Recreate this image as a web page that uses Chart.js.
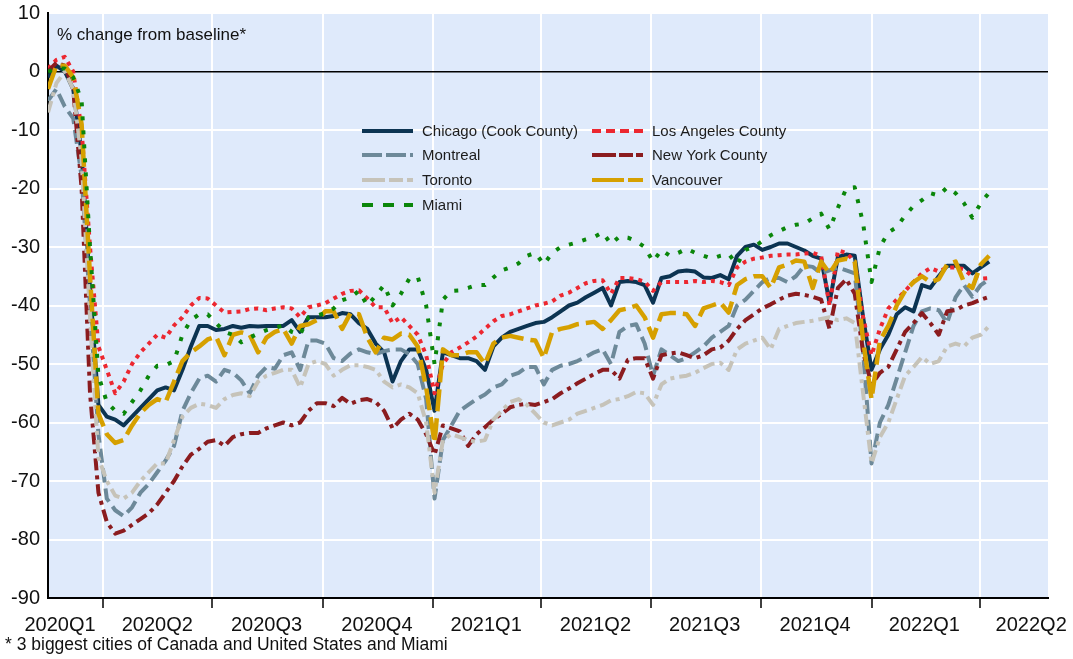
<!DOCTYPE html>
<html>
<head>
<meta charset="utf-8">
<title>Mobility: % change from baseline</title>
<script src="https://cdn.jsdelivr.net/npm/chart.js@4.4.1/dist/chart.umd.min.js"></script>
<style>
  html, body { margin: 0; padding: 0; background: #fff; }
  #wrap { width: 1073px; height: 659px; }
</style>
</head>
<body>
<div id="wrap"><canvas id="mobilityChart" width="1073" height="659"></canvas></div>
<script>
// weekly readings, first point is 2020-02-15, then one every 7 days
const START = Date.UTC(2020, 1, 15);
const DAY_MS = 86400000;
const X_MAX = 833; // days shown on the axis (to late May 2022)

const chicago = [
  -1, 1, 0, -3, -14, -37, -57, -59, -59.5, -60.5,
  -59, -57.5, -56, -54.5, -54, -54.5, -51, -47, -43.5, -43.5,
  -44.2, -44, -43.5, -43.8, -43.5, -43.6, -43.5, -43.5, -43.5, -42.5,
  -44.5, -42, -42, -42, -41.8, -41.3, -41.5, -43, -44, -46.5,
  -48, -53, -49.5, -47.5, -47.5, -51, -58, -48, -48.5, -49,
  -49, -49.5, -51, -47, -45.5, -44.5, -44, -43.5, -43, -42.8,
  -42, -41, -40, -39.5, -38.6, -37.8, -37, -40, -36, -35.8,
  -36, -36.5, -39.5, -35.3, -35, -34.2, -34, -34.2, -35.2, -35.3,
  -34.8, -35.5, -31.5, -30, -29.6, -30.5, -30, -29.4, -29.4, -30,
  -30.6, -31.5, -32, -39.5, -31.7, -31.3, -31.5, -42, -51, -47.5,
  -45, -41.5, -40.3, -41, -36.5, -37, -35, -33.2, -33.2, -33.2,
  -34.5, -33.5, -32.5
];
const losAngeles = [
  0.5, 2, 2.5, 0, -10, -30, -47, -51, -55, -53,
  -50, -48, -46.5, -45, -45.5, -43.4, -42, -40, -38.7, -38.8,
  -40, -41.2, -41.1, -41, -40.6, -40.5, -40.8, -40.5, -40.3, -40.5,
  -42, -40.3, -40, -39.6, -38.8, -38, -37.5, -37.4, -38.8, -40.3,
  -40.3, -43, -42, -43.5, -45, -48.5, -55, -50, -48, -47.2,
  -46.3, -45.3, -44, -42.7, -41.8, -41.5, -41, -40.5, -40, -39.7,
  -39.3, -38.3, -37.8, -37, -36.2, -35.8, -35.7, -38, -35.3, -35.3,
  -35.5, -35.9, -37.5, -36, -36, -36, -36, -35.8, -36, -35.8,
  -36, -36.5, -33.5, -32.5, -32, -31.8, -31.5, -31.4, -31.3, -31.3,
  -31.1, -31, -31.5, -40, -30.6, -31, -32.5, -42, -48.5, -44,
  -40.5, -39, -37.5, -36, -34.5, -33.6, -34.2, -33.5, -33.5, -33.8,
  -35, -35.4, -35.3
];
const montreal = [
  -5, -3, -6, -8, -18, -40, -62, -73, -75, -76,
  -74.5, -72, -70.5, -68.5, -66.5, -64, -58, -55, -52.5, -52,
  -53, -51, -51.5, -52.8, -55, -52, -50.5, -50.8, -48.5, -48,
  -51, -46, -46, -46.5, -49, -49.5, -48.2, -47.5, -48, -48.3,
  -47.8, -47.5, -47.5, -48.3, -50, -56, -73, -63, -60.5, -58,
  -57, -56, -55.2, -54, -53.5, -52, -51.5, -50.5, -50.5, -53.5,
  -51, -50.3, -50, -49.5, -48.8, -48, -47.5, -50, -44.5, -43.5,
  -43.2, -46.5, -52, -47.5, -48.5, -49.5, -49, -48, -47, -45.5,
  -44.5, -43.5, -40, -39, -37.5, -36, -35.3, -35.3, -36, -35,
  -33.2, -33.4, -34.5, -34, -33.5, -34, -34.5, -48, -67, -60,
  -57, -52.5, -48, -43.5, -41, -40.5, -40.8, -43, -38.6, -36.5,
  -38.5, -36.5, -35.5
];
const newYork = [
  0, 1.5, 1, -3, -20, -55, -72, -77, -79, -78.5,
  -77.5, -76.5, -75.5, -74, -72, -70, -67.5, -65.5, -64.5, -63.3,
  -63, -64, -62.5, -62, -61.8, -61.8, -61, -60.5, -60, -60.5,
  -60, -58, -56.7, -56.7, -57.2, -55.8, -56.8, -56.2, -56, -56.5,
  -58, -61, -59.5, -58.5, -59.5, -62, -65.5, -60.5, -61, -61.5,
  -64, -62, -60.8, -59.5, -58.5, -57.4, -57, -56.8, -57, -56.5,
  -56, -55, -54.2, -53.3, -52.5, -51.7, -51, -51, -52.5, -49.3,
  -49, -49, -52.5, -48.5, -48.2, -48, -48.5, -49, -48.5, -47.5,
  -47.2, -46, -44, -42.5, -41.5, -40.5, -39.8, -39, -38.3, -38,
  -38.2, -38.5, -39, -44, -37, -35.5, -38, -48, -53.5, -51.5,
  -50.5, -47.5, -44.5, -43, -41.3, -43, -45, -41, -40.8, -40,
  -39.6, -39, -38.5
];
const toronto = [
  -7, -2, 0, -3, -15, -42, -66, -70, -72.5, -73,
  -72, -70, -68.5, -67, -67, -63, -59, -57.5, -56.8, -57,
  -57.5, -56, -55.3, -55, -55.5, -53, -52, -51.5, -51, -51,
  -54, -50, -49.5, -50, -52, -51, -50.2, -50.2, -50.5, -51,
  -53, -54, -53.5, -54, -55, -60, -72, -63, -62, -62.5,
  -63, -63.3, -63, -59.5, -58, -56.5, -56, -57, -58.5, -60,
  -60.5, -60, -59.5, -58.5, -58, -57.5, -57, -56.2, -56, -55.5,
  -54.8, -55, -57, -53.5, -52.5, -52.2, -52, -51.5, -50.7, -50,
  -49.8, -51, -47.5, -46.5, -46, -45.5, -47.5, -44, -43.5, -43,
  -42.8, -42.6, -42.3, -42, -42.5, -42.2, -43, -55, -67, -62.5,
  -60, -56, -52, -50.5, -48.8, -50, -49.5, -47, -46.5, -47,
  -45.5, -45, -43.5
];
const vancouver = [
  -3, 1, 1, -1, -9, -35, -58.5, -62, -63.5, -63,
  -60.5, -58.4, -57, -56, -56.5, -53, -49.5, -48, -47, -45.8,
  -45.3, -48.5, -45, -44.6, -45, -48, -45.5, -44.5, -44, -46.5,
  -43.5, -43.2, -42.5, -41, -41, -44, -41.3, -41.5, -45.5, -48,
  -45.5, -45.8, -44.8, -45, -47, -54, -63.5, -47.5, -48.5, -48.5,
  -48, -48, -50, -46.5, -45.5, -45.2, -45.5, -45.8, -46, -49,
  -44.5, -44, -43.7, -43.2, -43, -42.8, -44, -42.5, -40.8, -40.5,
  -40, -42, -45.5, -41.5, -41.3, -41.3, -41.5, -43.5, -40.5, -40,
  -39.5, -41.2, -36.5, -35.5, -35, -35, -37, -33.5, -33, -32.3,
  -32.5, -37, -32.5, -34.5, -32.3, -32, -32.5, -46, -56, -46,
  -43.5, -40, -37.5, -36, -35, -36, -35.5, -33, -32.5, -36,
  -37, -33, -31.5
];
const miami = [
  0, 0.5, 0.5, -1, -5, -30, -52, -56.5, -58, -58.5,
  -56.5, -54.5, -52, -50.3, -50.2, -49.5, -45, -42.5, -41.5, -41.5,
  -43, -44.5, -45, -46.3, -45.5, -44.8, -44.2, -43.8, -43.4, -44.5,
  -45, -42, -41.7, -41.3, -40.5, -39.1, -38.6, -37.5, -40, -38.3,
  -36.5, -40, -38, -35.4, -35.1, -40, -50, -39, -37.5, -37.4,
  -37, -36.5, -36.5, -35.2, -34, -33.5, -32.8, -31.5, -31, -33,
  -31, -30, -29.6, -29.2, -28.7, -28.3, -27.5, -29.5, -28.2, -28.4,
  -29, -30, -32.5, -30.5, -31.5, -31, -30.3, -31, -31.5, -32,
  -31.5, -31.2, -33, -30.5, -30, -29, -28, -27.3, -26.6, -26.2,
  -26, -25.1, -24.3, -27, -23.3, -20, -19.8, -26, -36, -30,
  -27.5, -26.6, -24.6, -23, -22, -20.8, -21.2, -19.8, -20.8, -22.5,
  -25, -22.5, -20.7
];

// x axis: quarter boundaries get grid lines, labels sit in the middle of each quarter
const quarterStarts = ["2020-04-01", "2020-07-01", "2020-10-01", "2021-01-01", "2021-04-01",
                       "2021-07-01", "2021-10-01", "2022-01-01", "2022-04-01"];
const quarterLabels = ["2020Q1", "2020Q2", "2020Q3", "2020Q4", "2021Q1",
                       "2021Q2", "2021Q3", "2021Q4", "2022Q1", "2022Q2"];
const quarterLabelDates = ["2020-02-25", "2020-05-16", "2020-08-15", "2020-11-15", "2021-02-14",
                           "2021-05-16", "2021-08-15", "2021-11-15", "2022-02-14", "2022-05-14"];
const yTickMin = -90, yTickMax = 10, yTickStep = 10;

function dayOf(s) {
  return Math.round((Date.parse(s + "T00:00:00Z") - START) / DAY_MS);
}
function toPoints(values) {
  return values.map((v, i) => ({ x: i * 7, y: v }));
}

const boundaryDays = quarterStarts.map(dayOf);
const labelByDay = {};
quarterLabelDates.forEach((d, i) => { labelByDay[dayOf(d)] = quarterLabels[i]; });
const xTickValues = boundaryDays.concat(Object.keys(labelByDay).map(Number)).sort((a, b) => a - b);
const isBoundary = v => boundaryDays.indexOf(v) !== -1;

const series = [
  { label: "Chicago (Cook County)", data: chicago,    color: "#0c3452", width: 4,   dash: [],            legendDash: [] },
  { label: "Los Angeles County",    data: losAngeles, color: "#ec2730", width: 4,   dash: [4, 5],        legendDash: [9, 5] },
  { label: "Montreal",              data: montreal,   color: "#6d8999", width: 4,   dash: [14, 6],       legendDash: [20, 4] },
  { label: "New York County",       data: newYork,    color: "#8b1c1f", width: 4,   dash: [12, 5, 4, 5], legendDash: [24, 3, 14, 3] },
  { label: "Toronto",               data: toronto,    color: "#c6c3b9", width: 4,   dash: [12, 5, 4, 5], legendDash: [23, 4, 14, 4] },
  { label: "Vancouver",             data: vancouver,  color: "#d6a000", width: 4.5, dash: [22, 7],       legendDash: [32, 4] },
  { label: "Miami",                 data: miami,      color: "#0a860a", width: 4,   dash: [4, 10],       legendDash: [11, 10] }
];

const FONT = '"Liberation Sans", Arial, sans-serif';
Chart.defaults.font.family = FONT;

// light blue plot area
const plotBackground = {
  id: "plotBackground",
  beforeDraw(chart) {
    const a = chart.chartArea, ctx = chart.ctx;
    ctx.save();
    ctx.fillStyle = "#dfeafb";
    ctx.fillRect(a.left, a.top, a.right - a.left, a.bottom - a.top);
    ctx.restore();
  }
};

// legend inside the plot, two columns, plus the unit note and footnote
const innerLegend = {
  id: "innerLegend",
  afterDraw(chart) {
    const ctx = chart.ctx;
    const cols = [362, 592];
    const rows = [131, 155, 180, 205];
    ctx.save();
    chart.data.datasets.forEach((ds, i) => {
      const x = cols[i % 2], y = rows[Math.floor(i / 2)];
      ctx.beginPath();
      ctx.strokeStyle = ds.borderColor;
      ctx.lineWidth = 4;
      ctx.lineCap = "butt";
      ctx.setLineDash(ds.legendDash);
      ctx.moveTo(x, y);
      ctx.lineTo(x + 51, y);
      ctx.stroke();
      ctx.setLineDash([]);
      ctx.fillStyle = "#1c1c1c";
      ctx.font = "15px " + FONT;
      ctx.textBaseline = "middle";
      ctx.textAlign = "left";
      ctx.fillText(ds.label, x + 60, y + 1);
    });
    ctx.fillStyle = "#111";
    ctx.textBaseline = "alphabetic";
    ctx.font = "17px " + FONT;
    ctx.fillText("% change from baseline*", chart.chartArea.left + 9, 40);
    ctx.font = "17.5px " + FONT;
    ctx.fillText("* 3 biggest cities of Canada and United States and Miami", 5, 650);
    ctx.restore();
  }
};

const chartCtx = document.getElementById("mobilityChart").getContext("2d");
new Chart(chartCtx, {
  type: "line",
  data: {
    datasets: series.map((s, i) => ({
      label: s.label,
      data: toPoints(s.data),
      borderColor: s.color,
      backgroundColor: s.color,
      borderWidth: s.width,
      borderDash: s.dash,
      borderCapStyle: "butt",
      borderJoinStyle: "round",
      legendDash: s.legendDash,
      pointRadius: 0,
      tension: 0,
      fill: false,
      order: series.length - i
    }))
  },
  options: {
    responsive: false,
    animation: false,
    layout: { padding: { left: 0, right: 25, top: 13, bottom: 21 } },
    plugins: {
      legend: { display: false },
      tooltip: { enabled: false }
    },
    scales: {
      x: {
        type: "linear",
        min: 0,
        max: X_MAX,
        afterBuildTicks: scale => { scale.ticks = xTickValues.map(v => ({ value: v })); },
        afterFit: scale => { scale.height = 40; },
        ticks: {
          autoSkip: false,
          maxRotation: 0,
          padding: 5,
          color: "#111",
          font: { size: 20 },
          callback: value => labelByDay[value] || ""
        },
        grid: {
          color: c => (c.tick && isBoundary(c.tick.value)) ? "#ffffff" : "rgba(0,0,0,0)",
          tickColor: c => (c.tick && isBoundary(c.tick.value)) ? "#000000" : "rgba(0,0,0,0)",
          lineWidth: 2,
          tickWidth: 1.5,
          tickLength: 10
        },
        border: { color: "#000", width: 2 }
      },
      y: {
        min: yTickMin,
        max: yTickMax,
        afterFit: scale => {
          scale.width = 48;
          // let the layout padding alone decide where the plot top sits
          scale.paddingTop = 0;
          scale.paddingBottom = 0;
        },
        ticks: { stepSize: yTickStep, padding: 8, color: "#111", font: { size: 20 } },
        grid: {
          color: c => c.tick.value === 0 ? "#000000" : "#ffffff",
          lineWidth: c => c.tick.value === 0 ? 1.5 : 2,
          drawTicks: false
        },
        border: { color: "#000", width: 2 }
      }
    }
  },
  plugins: [plotBackground, innerLegend]
});
</script>
</body>
</html>
